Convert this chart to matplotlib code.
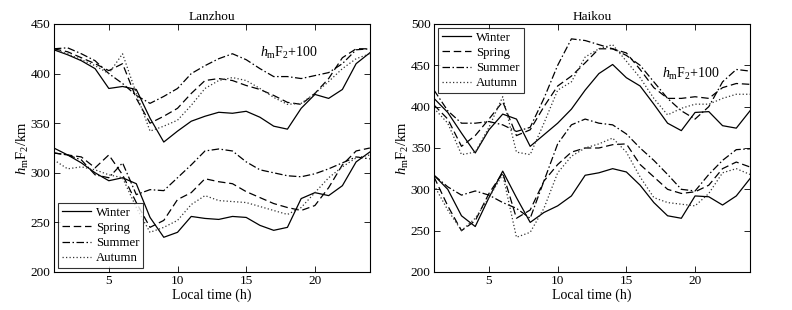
import matplotlib
matplotlib.use("Agg")
import matplotlib.pyplot as plt
import numpy as np

plt.rcParams['font.family'] = ['Liberation Serif', 'DejaVu Serif']
plt.rcParams['mathtext.fontset'] = 'custom'
plt.rcParams['mathtext.rm'] = 'Liberation Serif'
plt.rcParams['mathtext.it'] = 'Liberation Serif:italic'

hours = list(range(1, 25))
seasons = ["Winter", "Spring", "Summer", "Autumn"]

# Lanzhou, upper group (plotted as hmF2 + 100)
lz_up_winter = [324, 319, 313, 305, 285, 287, 284, 255, 231, 242, 252, 257, 261, 260, 262, 256, 247, 244, 265, 279, 275, 284, 310, 321]
lz_up_spring = [325, 322, 316, 310, 303, 310, 275, 250, 257, 265, 280, 293, 295, 293, 288, 284, 278, 271, 269, 280, 295, 316, 325, 325]
lz_up_summer = [325, 326, 320, 313, 300, 290, 278, 270, 277, 285, 300, 308, 315, 320, 314, 305, 297, 297, 295, 298, 301, 310, 324, 325]
lz_up_autumn = [324, 320, 314, 308, 300, 320, 280, 242, 247, 253, 268, 285, 293, 296, 293, 285, 276, 269, 270, 280, 292, 305, 315, 320]
# Lanzhou, lower group
lz_lo_winter = [325, 318, 310, 300, 292, 295, 289, 255, 235, 240, 256, 254, 253, 256, 255, 247, 242, 245, 274, 280, 277, 287, 311, 321]
lz_lo_spring = [320, 318, 316, 305, 318, 298, 270, 245, 252, 273, 280, 294, 291, 289, 281, 275, 269, 265, 262, 267, 285, 308, 322, 325]
lz_lo_summer = [320, 318, 313, 298, 295, 310, 278, 283, 282, 295, 308, 322, 324, 322, 311, 303, 300, 297, 296, 299, 304, 310, 316, 314]
lz_lo_autumn = [313, 304, 306, 303, 298, 295, 265, 240, 245, 252, 268, 277, 272, 271, 270, 266, 262, 258, 265, 280, 295, 306, 315, 318]

# Haikou, upper group (plotted as hmF2 + 100)
hk_up_winter = [310, 293, 268, 244, 272, 291, 285, 252, 266, 280, 297, 320, 340, 351, 335, 325, 303, 280, 271, 293, 294, 277, 274, 295]
hk_up_spring = [302, 285, 252, 265, 285, 306, 265, 272, 300, 325, 337, 353, 370, 370, 365, 345, 323, 310, 310, 312, 310, 323, 328, 327]
hk_up_summer = [320, 295, 280, 280, 282, 278, 270, 275, 310, 350, 382, 380, 375, 370, 362, 350, 330, 310, 295, 285, 300, 330, 345, 343]
hk_up_autumn = [298, 280, 242, 245, 275, 312, 245, 242, 280, 320, 330, 360, 370, 375, 355, 335, 310, 290, 298, 303, 303, 310, 315, 315]
# Haikou, lower group
hk_lo_winter = [317, 300, 268, 255, 290, 322, 290, 260, 272, 280, 292, 317, 320, 325, 321, 305, 284, 268, 265, 292, 291, 281, 292, 313]
hk_lo_spring = [315, 280, 250, 262, 295, 320, 265, 275, 310, 330, 345, 350, 350, 354, 355, 330, 315, 300, 295, 297, 305, 325, 333, 327]
hk_lo_summer = [317, 303, 293, 298, 293, 284, 277, 265, 310, 355, 378, 385, 380, 378, 367, 350, 335, 318, 300, 298, 318, 335, 348, 349]
hk_lo_autumn = [305, 275, 250, 265, 290, 318, 242, 248, 277, 320, 340, 350, 355, 362, 345, 315, 290, 284, 282, 280, 295, 320, 325, 318]

offset = 100

styles = {
    "Winter": dict(color="black", linestyle="-", linewidth=0.9),
    "Spring": dict(color="black", linestyle=(0, (6, 3)), linewidth=0.9),
    "Summer": dict(color="black", linestyle=(0, (6, 2, 1.2, 2)), linewidth=0.9),
    "Autumn": dict(color="#333333", linestyle=(0, (1, 1.8)), linewidth=0.9),
}

fig = plt.figure(figsize=(7.92, 3.10), dpi=100)
ax1 = fig.add_axes([0.068, 0.1226, 0.399, 0.80])
ax2 = fig.add_axes([0.548, 0.1226, 0.399, 0.80])

panels = [
    (ax1, "Lanzhou", [lz_up_winter, lz_up_spring, lz_up_summer, lz_up_autumn],
     [lz_lo_winter, lz_lo_spring, lz_lo_summer, lz_lo_autumn], (200, 450), "lower left", (16.0, 421)),
    (ax2, "Haikou", [hk_up_winter, hk_up_spring, hk_up_summer, hk_up_autumn],
     [hk_lo_winter, hk_lo_spring, hk_lo_summer, hk_lo_autumn], (200, 500), "upper left", (17.6, 440)),
]

for ax, title, ups, los, ylim, legloc, txtpos in panels:
    handles = []
    for s, up, lo in zip(seasons, ups, los):
        ax.plot(hours, np.array(up) + offset, **styles[s])
        h, = ax.plot(hours, lo, label=s, **styles[s])
        handles.append(h)
    ax.set_xlim(1, 24)
    ax.set_ylim(*ylim)
    ax.set_xticks([5, 10, 15, 20])
    ax.set_yticks(np.arange(ylim[0], ylim[1] + 1, 50))
    ax.tick_params(direction="in", top=True, right=True, labelsize=9.5, length=4, width=0.6, pad=2.5)
    for sp in ax.spines.values():
        sp.set_linewidth(0.8)
    ax.set_title(title, fontsize=9.5, pad=3)
    ax.set_xlabel("Local time (h)", fontsize=10, labelpad=1)
    ax.set_ylabel("$h_{\\rm m}$F$_2$/km", fontsize=10.5, labelpad=0)
    ax.text(txtpos[0], txtpos[1], "$h_{\\rm m}$F$_2$+100", fontsize=10, va="center", ha="left")
    leg = ax.legend(handles=handles, loc=legloc, fontsize=9.2, frameon=True, fancybox=False,
                    edgecolor="black", handlelength=2.3, borderpad=0.3, labelspacing=0.25,
                    handletextpad=0.4, borderaxespad=0.3)
    leg.get_frame().set_linewidth(0.8)

fig.savefig("out.png", dpi=100)
